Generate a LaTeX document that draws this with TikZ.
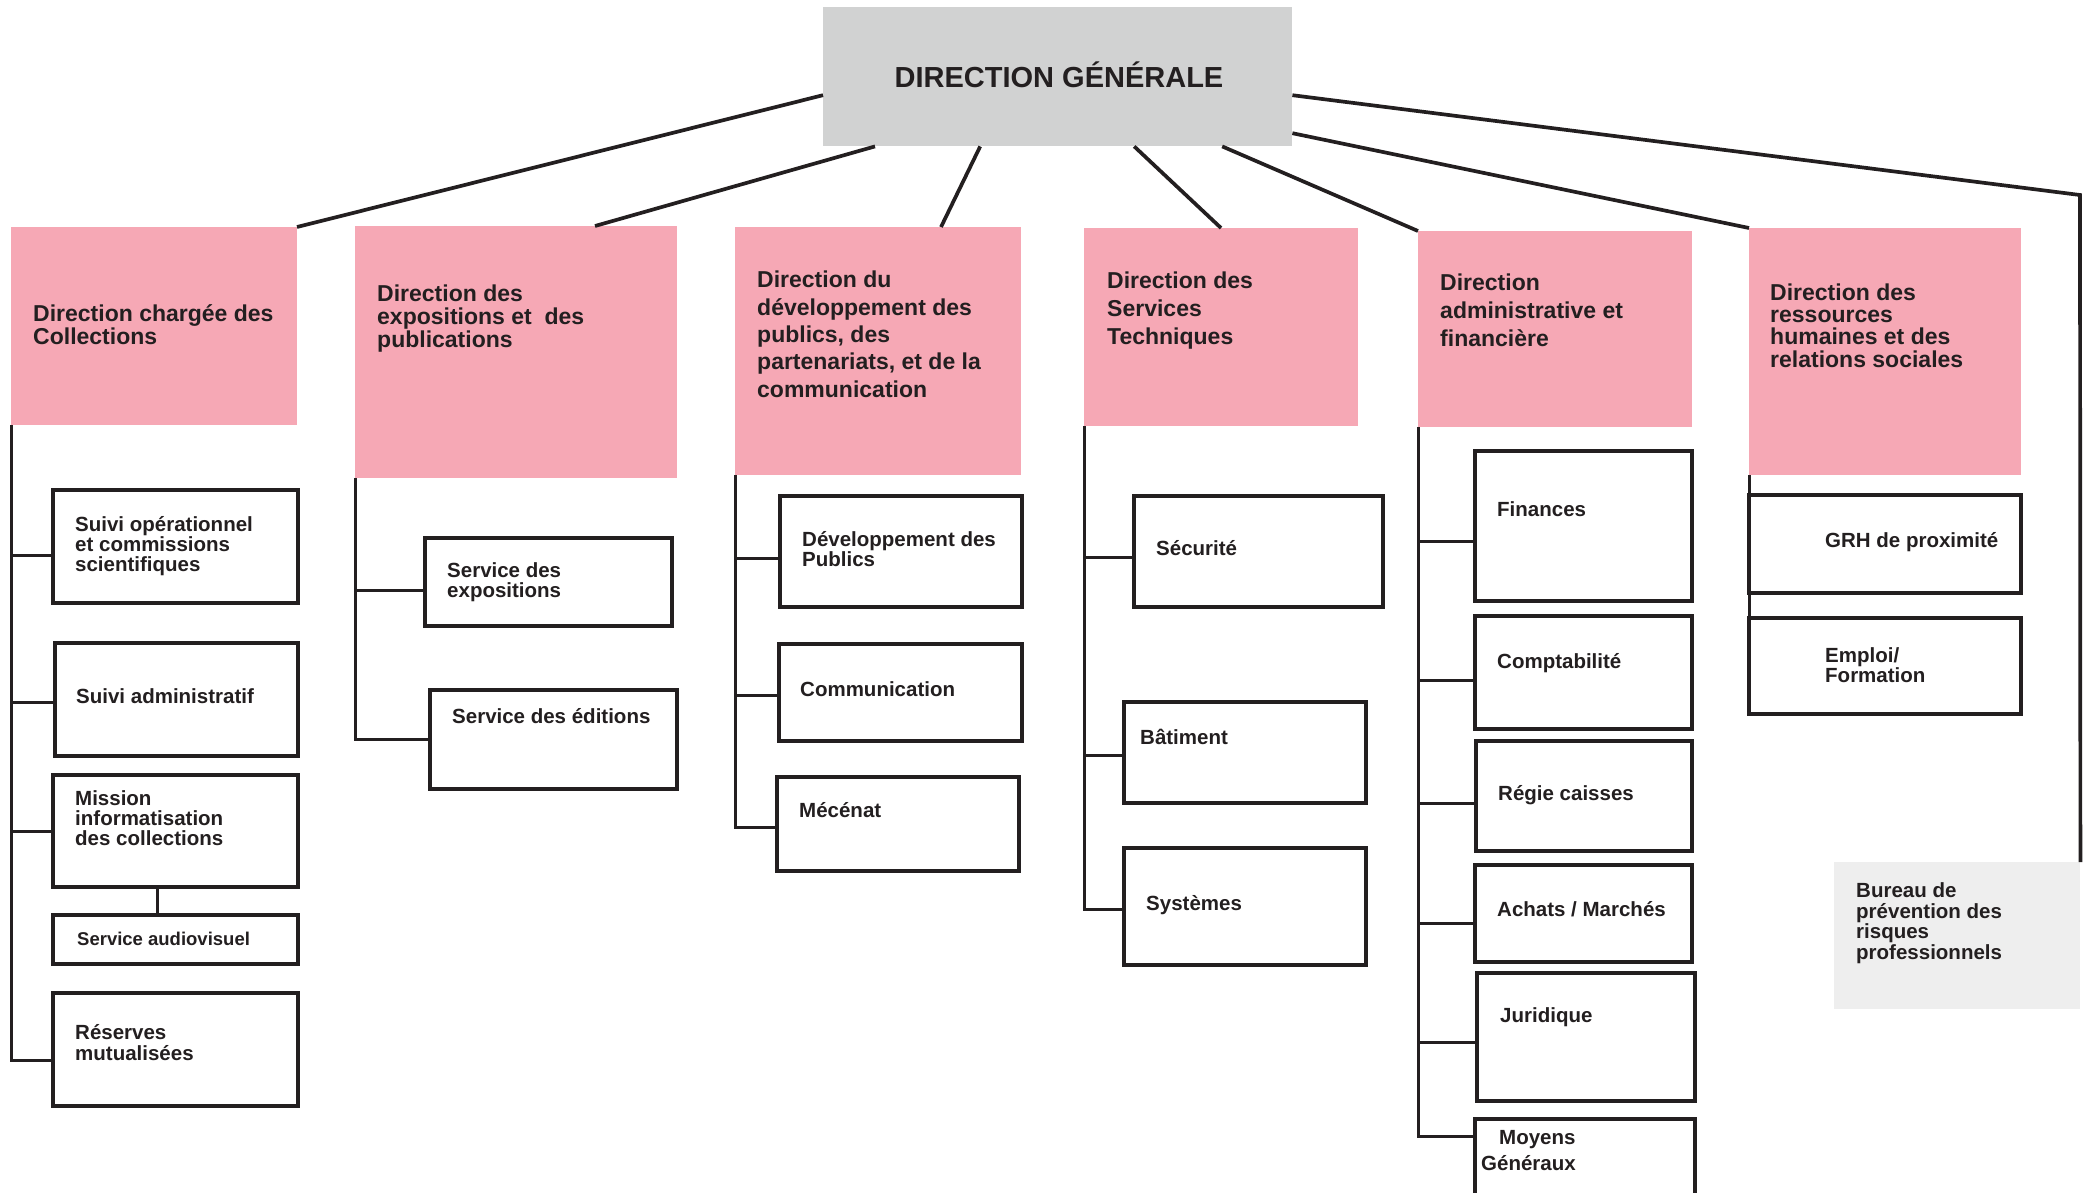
\documentclass[tikz,border=0pt]{standalone}
\usepackage{fontspec}
\setmainfont{Liberation Sans}
\definecolor{ink}{HTML}{231F20}
\definecolor{dirpink}{HTML}{F6A8B5}
\definecolor{dggray}{HTML}{D1D2D2}
\definecolor{burgray}{HTML}{EEEEEE}
\tikzset{
  dirbox/.style={fill=dirpink, inner sep=0pt, outer sep=0pt, anchor=north west},
  servbox/.style={draw=ink, line width=3.5pt, fill=white, inner sep=0pt, outer sep=0pt, anchor=north west},
  dirtxt/.style={font=\bfseries\fontsize{23}{23}\selectfont, text=ink, align=left, anchor=base west, inner sep=0pt},
  servtxt/.style={font=\bfseries\fontsize{20.5}{20}\selectfont, text=ink, align=left, anchor=base west, inner sep=0pt},
  link/.style={draw=ink, line width=3pt},
  toplink/.style={draw=ink, line width=3.7pt}
}
\begin{document}
\begin{tikzpicture}[x=1pt,y=-1pt]
  \useasboundingbox (0,0) rectangle (2089,1192);
  % direction generale
  \node[fill=dggray, minimum width=469pt, minimum height=139pt, anchor=north west, inner sep=0pt] (dg) at (823,7) {};
  \node[font=\bfseries\fontsize{29}{29}\selectfont, text=ink, anchor=base, inner sep=0pt] (tdg) at (1059,87) {DIRECTION GÉNÉRALE};

  % directions
  \node[dirbox, minimum width=286pt, minimum height=198pt] (d1) at (11,227) {};
  \node[dirbox, minimum width=322pt, minimum height=252pt] (d2) at (355,226) {};
  \node[dirbox, minimum width=286pt, minimum height=248pt] (d3) at (735,227) {};
  \node[dirbox, minimum width=274pt, minimum height=198pt] (d4) at (1084,228) {};
  \node[dirbox, minimum width=274pt, minimum height=196pt] (d5) at (1418,231) {};
  \node[dirbox, minimum width=272pt, minimum height=247pt] (d6) at (1749,228) {};
  \node[fill=burgray, minimum width=246pt, minimum height=147pt, anchor=north west, inner sep=0pt] (bur) at (1834,862) {};

  % texts sit on the baseline of their last line
  \node[dirtxt] (td1) at (33,344) {Direction chargée des\\Collections};
  \node[dirtxt] (td2) at (377,347) {Direction des\\expositions et\ \ des\\publications};
  \node[dirtxt, font=\bfseries\fontsize{23}{27.3}\selectfont] (td3) at (757,397) {Direction du\\développement des\\publics, des\\partenariats, et de la\\communication};
  \node[dirtxt, font=\bfseries\fontsize{23}{28}\selectfont] (td4) at (1107,344) {Direction des\\Services\\Techniques};
  \node[dirtxt, font=\bfseries\fontsize{23}{28}\selectfont] (td5) at (1440,346) {Direction\\administrative et\\financière};
  \node[dirtxt, font=\bfseries\fontsize{23}{22.3}\selectfont] (td6) at (1770,367) {Direction des\\ressources\\humaines et des\\relations sociales};
  \node[servtxt, font=\bfseries\fontsize{20.5}{20.5}\selectfont] (tbur) at (1856,959) {Bureau de\\prévention des\\risques\\professionnels};

  % links from the top
  \begin{scope}[toplink]
    \draw ([yshift=-18.5pt]dg.west) -- (d1.north east);
    \draw ([xshift=52pt]dg.south west) -- ([xshift=79pt]d2.north);
    \draw ([xshift=-77.5pt]dg.south) -- ([xshift=63pt]d3.north);
    \draw ([xshift=76.5pt]dg.south) -- (d4.north);
    \draw ([xshift=164.5pt]dg.south) -- (d5.north west);
    \draw ([yshift=-56.5pt]dg.east) -- (d6.north west);
    \coordinate (tr) at (2080,195);
    \draw ([yshift=-18.5pt]dg.east) -- (tr) -- (bur.north east);
  \end{scope}

  % collections
  \node[servbox, minimum width=245pt, minimum height=113pt] (b11) at (53,490) {};
  \node[servbox, minimum width=243pt, minimum height=113pt] (b12) at (55,643) {};
  \node[servbox, minimum width=245pt, minimum height=112pt] (b13) at (53,775) {};
  \node[servbox, minimum width=245pt, minimum height=49pt] (b14) at (53,915) {};
  \node[servbox, minimum width=245pt, minimum height=113pt] (b15) at (53,993) {};
  \node[servtxt] (t11) at (75,571) {Suivi opérationnel\\et commissions\\scientifiques};
  \node[servtxt] (t12) at (76,703) {Suivi administratif};
  \node[servtxt] (t13) at (75,845) {Mission\\informatisation\\des collections};
  \node[servtxt, font=\bfseries\fontsize{18.5}{18.5}\selectfont] (t14) at (77,945) {Service audiovisuel};
  \node[servtxt, font=\bfseries\fontsize{20.5}{21}\selectfont] (t15) at (75,1060) {Réserves\\mutualisées};

  % expositions
  \node[servbox, minimum width=247pt, minimum height=88pt] (b21) at (425,538) {};
  \node[servbox, minimum width=247pt, minimum height=99pt] (b22) at (430,690) {};
  \node[servtxt] (t21) at (447,597) {Service des\\expositions};
  \node[servtxt] (t22) at (452,723) {Service des éditions};

  % publics
  \node[servbox, minimum width=242pt, minimum height=111pt] (b31) at (780,496) {};
  \node[servbox, minimum width=243pt, minimum height=97pt] (b32) at (779,644) {};
  \node[servbox, minimum width=242pt, minimum height=94pt] (b33) at (777,777) {};
  \node[servtxt] (t31) at (802,566) {Développement des\\Publics};
  \node[servtxt] (t32) at (800,696) {Communication};
  \node[servtxt] (t33) at (799,817) {Mécénat};

  % services techniques
  \node[servbox, minimum width=249pt, minimum height=111pt] (b41) at (1134,496) {};
  \node[servbox, minimum width=242pt, minimum height=101pt] (b42) at (1124,702) {};
  \node[servbox, minimum width=242pt, minimum height=117pt] (b43) at (1124,848) {};
  \node[servtxt] (t41) at (1156,555) {Sécurité};
  \node[servtxt] (t42) at (1140,744) {Bâtiment};
  \node[servtxt] (t43) at (1146,910) {Systèmes};

  % administrative et financiere
  \node[servbox, minimum width=217pt, minimum height=150pt] (b51) at (1475,451) {};
  \node[servbox, minimum width=217pt, minimum height=113pt] (b52) at (1475,616) {};
  \node[servbox, minimum width=216pt, minimum height=110pt] (b53) at (1476,741) {};
  \node[servbox, minimum width=217pt, minimum height=97pt] (b54) at (1475,865) {};
  \node[servbox, minimum width=218pt, minimum height=128pt] (b55) at (1477,973) {};
  \node[servbox, minimum width=220pt, minimum height=96pt] (b56) at (1475,1119) {};
  \node[servtxt] (t51) at (1497,516) {Finances};
  \node[servtxt] (t52) at (1497,668) {Comptabilité};
  \node[servtxt] (t53) at (1498,800) {Régie caisses};
  \node[servtxt] (t54) at (1497,916) {Achats / Marchés};
  \node[servtxt] (t55) at (1500,1022) {Juridique};
  \node[servtxt, font=\bfseries\fontsize{20.5}{26}\selectfont] (t56) at (1481,1170) {\hspace*{18pt}Moyens\\Généraux};

  % ressources humaines
  \node[servbox, line width=4.5pt, minimum width=272pt, minimum height=98pt] (b61) at (1749,495) {};
  \node[servbox, minimum width=272pt, minimum height=96pt] (b62) at (1749,618) {};
  \node[servtxt] (t61) at (1825,547) {GRH de proximité};
  \node[servtxt] (t62) at (1825,682) {Emploi/\\Formation};

  % branches
  \coordinate (j11) at ([yshift=-8.5pt]b11.west);
  \coordinate (j12) at ([yshift=-2.5pt]b12.west);
  \coordinate (j13) at (b13.west);
  \coordinate (j15) at ([yshift=-10.5pt]b15.west);
  \coordinate (j21) at ([yshift=-8pt]b21.west);
  \coordinate (j22) at (b22.west);
  \coordinate (j31) at ([yshift=-6.5pt]b31.west);
  \coordinate (j32) at ([yshift=-2.5pt]b32.west);
  \coordinate (j33) at ([yshift=-3pt]b33.west);
  \coordinate (j41) at ([yshift=-5.5pt]b41.west);
  \coordinate (j42) at ([yshift=-2.5pt]b42.west);
  \coordinate (j43) at ([yshift=-2.5pt]b43.west);
  \coordinate (j51) at ([yshift=-15pt]b51.west);
  \coordinate (j52) at ([yshift=-7.5pt]b52.west);
  \coordinate (j53) at ([yshift=-7pt]b53.west);
  \coordinate (j54) at ([yshift=-9.5pt]b54.west);
  \coordinate (j55) at ([yshift=-5pt]b55.west);
  \coordinate (j56) at ([yshift=-17pt]b56.north west);
  \begin{scope}[link]
    \draw (d1.south west) |- (j15);
    \draw (d1.south west |- j11) -- (j11);
    \draw (d1.south west |- j12) -- (j12);
    \draw (d1.south west |- j13) -- (j13);
    \draw ([xshift=-18pt]b13.south) -- ([xshift=-18pt]b14.north);
    \draw (d2.south west) |- (j22);
    \draw (d2.south west |- j21) -- (j21);
    \draw (d3.south west) |- (j33);
    \draw (d3.south west |- j31) -- (j31);
    \draw (d3.south west |- j32) -- (j32);
    \draw (d4.south west) |- (j43);
    \draw (d4.south west |- j41) -- (j41);
    \draw (d4.south west |- j42) -- (j42);
    \draw (d5.south west) |- (j56);
    \draw (d5.south west |- j51) -- (j51);
    \draw (d5.south west |- j52) -- (j52);
    \draw (d5.south west |- j53) -- (j53);
    \draw (d5.south west |- j54) -- (j54);
    \draw (d5.south west |- j55) -- (j55);
    \draw (d6.south west) -- (b61.north west);
    \draw (b61.south west) -- (b62.north west);
  \end{scope}
\end{tikzpicture}
\end{document}
